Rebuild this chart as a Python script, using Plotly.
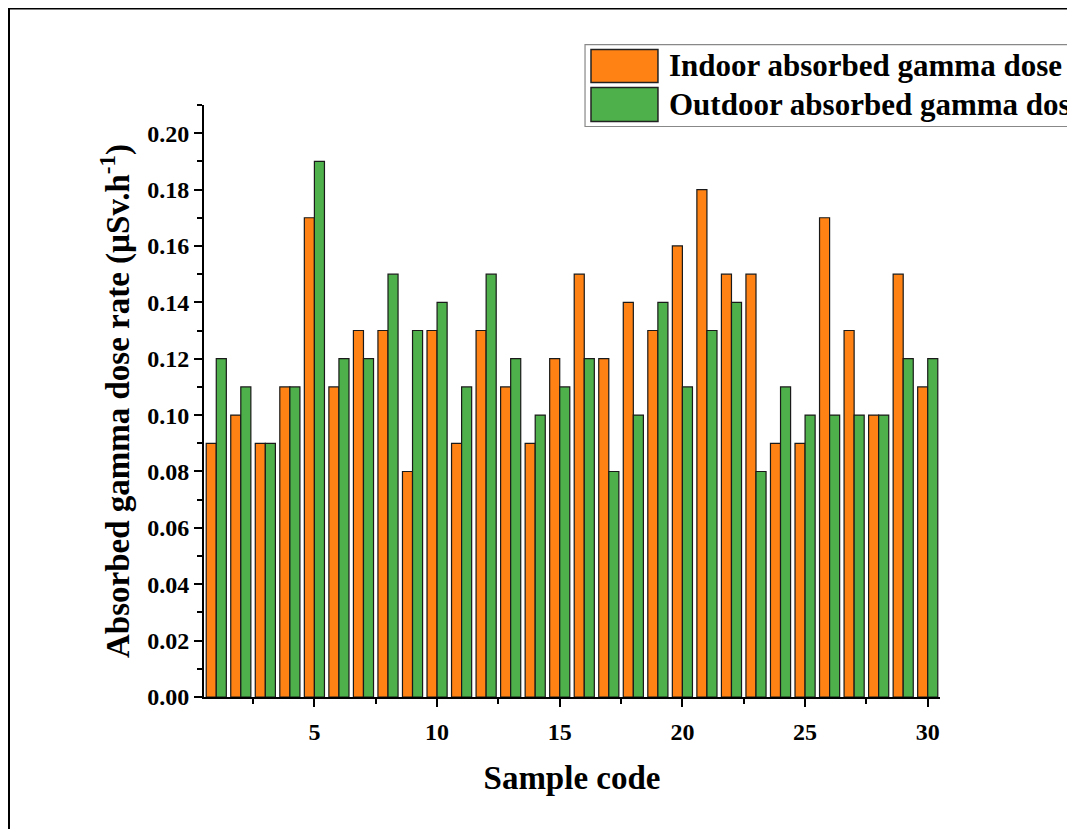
import plotly.graph_objects as go

samples = list(range(1, 31))
indoor = [0.09, 0.10, 0.09, 0.11, 0.17, 0.11, 0.13, 0.13, 0.08, 0.13,
          0.09, 0.13, 0.11, 0.09, 0.12, 0.15, 0.12, 0.14, 0.13, 0.16,
          0.18, 0.15, 0.15, 0.09, 0.09, 0.17, 0.13, 0.10, 0.15, 0.11]
outdoor = [0.12, 0.11, 0.09, 0.11, 0.19, 0.12, 0.12, 0.15, 0.13, 0.14,
           0.11, 0.15, 0.12, 0.10, 0.11, 0.12, 0.08, 0.10, 0.14, 0.11,
           0.13, 0.14, 0.08, 0.11, 0.10, 0.10, 0.10, 0.10, 0.12, 0.12]
series_names = ["Indoor absorbed gamma dose", "Outdoor absorbed gamma dose"]
x_ticks = [5, 10, 15, 20, 25, 30]
y_ticks = [0.00, 0.02, 0.04, 0.06, 0.08, 0.10, 0.12, 0.14, 0.16, 0.18, 0.20]

ORANGE = "#FF8214"
GREEN = "#4DB04A"
FONT = "Liberation Serif"

fig = go.Figure()
fig.add_trace(go.Bar(x=samples, y=indoor, name=series_names[0],
                     marker=dict(color=ORANGE, line=dict(color="#1a1a1a", width=1.2))))
fig.add_trace(go.Bar(x=samples, y=outdoor, name=series_names[1],
                     marker=dict(color=GREEN, line=dict(color="#1a1a1a", width=1.2))))

fig.update_layout(
    width=1067, height=821,
    margin=dict(l=196, r=135, t=97, b=132),
    paper_bgcolor="white", plot_bgcolor="white",
    barmode="group", bargap=0.18, bargroupgap=0,
    showlegend=False,
    font=dict(family=FONT, color="black"),
)

fig.update_xaxes(
    range=[0.5, 30.5], tickvals=x_ticks, ticktext=[str(v) for v in x_ticks],
    showgrid=False, zeroline=False, showline=True, linecolor="black", linewidth=2,
    ticks="outside", ticklen=8, tickwidth=2, tickcolor="black",
    minor=dict(tickvals=[2.5, 7.5, 12.5, 17.5, 22.5, 27.5], ticks="outside",
               ticklen=5, tickwidth=2, tickcolor="black"),
    tickfont=dict(family=FONT, size=24, weight="bold"),
    ticklabelstandoff=4,
    title=dict(text="Sample code", font=dict(family=FONT, size=33, weight="bold"), standoff=22),
)
fig.update_yaxes(
    range=[0, 0.21], tickvals=y_ticks, ticktext=[f"{v:.2f}" for v in y_ticks],
    showgrid=False, zeroline=False, showline=True, linecolor="black", linewidth=2,
    ticks="outside", ticklen=8, tickwidth=2, tickcolor="black",
    minor=dict(dtick=0.01, ticks="outside", ticklen=5, tickwidth=2, tickcolor="black"),
    tickfont=dict(family=FONT, size=24, weight="bold"),
    title=dict(text="Absorbed gamma dose rate (µSv.h<sup>-1</sup>)",
               font=dict(family=FONT, size=33, weight="bold"), standoff=8),
)

# outer frame
fig.add_shape(type="rect", xref="paper", yref="paper", x0=-0.2663, x1=1.6, y0=-0.6, y1=1.1646,
              line=dict(color="black", width=4), fillcolor="rgba(0,0,0,0)", layer="above")
# legend box
fig.add_shape(type="rect", xref="paper", yref="paper", x0=0.5177, x1=1.3, y0=0.9637, y1=1.1021,
              line=dict(color="#888888", width=1.2), fillcolor="white", layer="above")
swatches = [(ORANGE, 1.038, 1.0937, 1.0667), (GREEN, 0.9722, 1.0295, 1.0008)]
for (col, y0, y1, yt), name in zip(swatches, series_names):
    fig.add_shape(type="rect", xref="paper", yref="paper", x0=0.5258, x1=0.6168, y0=y0, y1=y1,
                  line=dict(color="#222222", width=1.5), fillcolor=col, layer="above")
    fig.add_annotation(x=0.6291, y=yt, xref="paper", yref="paper", xanchor="left", yanchor="middle",
                       text=name, showarrow=False,
                       font=dict(family=FONT, size=31, weight="bold", color="black"))

fig.write_html("out.html")
